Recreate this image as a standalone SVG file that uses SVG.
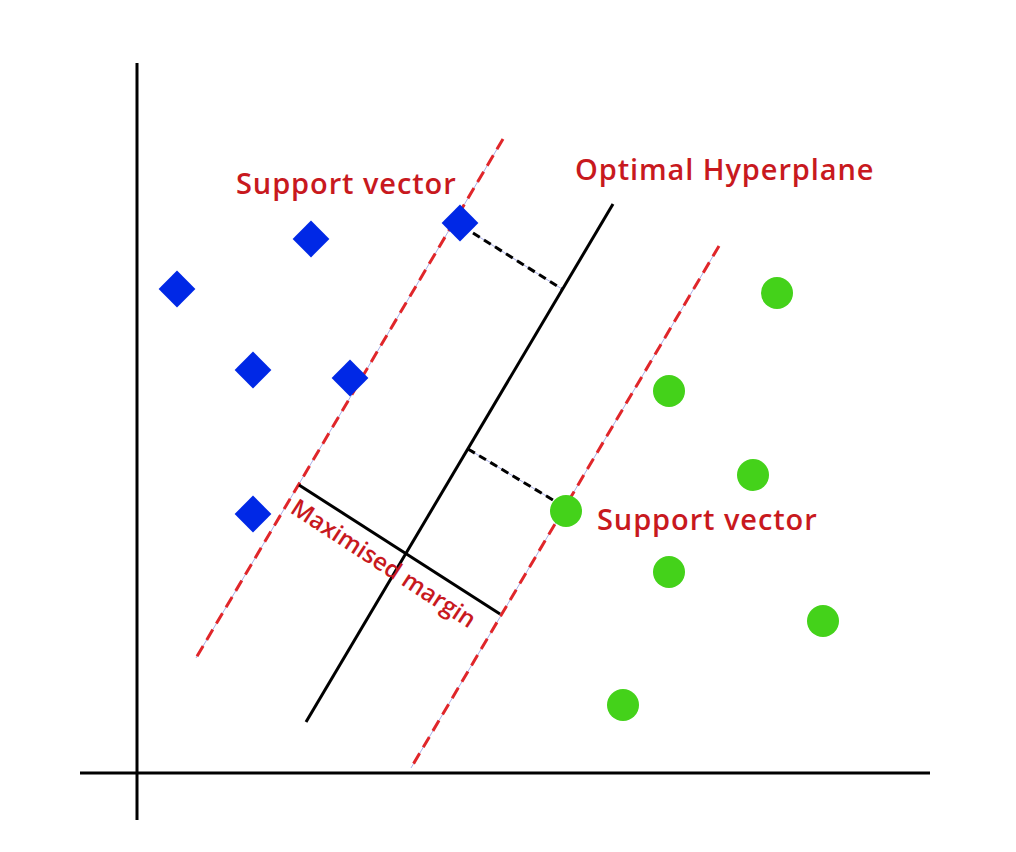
<svg xmlns="http://www.w3.org/2000/svg" width="1016" height="852" viewBox="0 0 1016 852">
<style>
.ax{stroke:#000;stroke-width:3}
.sv{stroke:#e0262a;stroke-width:3;stroke-dasharray:12 7}
.thin{stroke:#aab0e8;stroke-width:1}
.blk{stroke:#000;stroke-width:3}
.dsh{stroke:#000;stroke-width:3;stroke-dasharray:8 5}
.lbl{font-family:"Open Sans","Liberation Sans",sans-serif;font-weight:600;font-size:29px;letter-spacing:0.9px;fill:#c8191e}
.mm{font-size:24px;letter-spacing:0}
.dia{fill:#0028e6}
.cir{fill:#44d21a}
</style>
<rect width="1016" height="852" fill="#fff"/>
<g id="axes">
<line class="ax" x1="137" y1="63" x2="137" y2="820"/>
<line class="ax" x1="80" y1="773" x2="930" y2="773"/>
</g>
<g id="connectors" fill="none">
<line class="thin" x1="503" y1="139" x2="196" y2="658"/>
<line class="sv" x1="503" y1="139" x2="196" y2="658"/>
<line class="thin" x1="719" y1="246" x2="411" y2="768"/>
<line class="sv" x1="719" y1="246" x2="411" y2="768"/>
<line class="blk" x1="613" y1="204" x2="306" y2="722"/>
<line class="blk" x1="299" y1="485" x2="500" y2="614"/>
<line class="thin" x1="473" y1="233" x2="562" y2="289"/>
<line class="dsh" x1="473" y1="233" x2="562" y2="289"/>
<line class="thin" x1="468" y1="449" x2="553" y2="500"/>
<line class="dsh" x1="468" y1="449" x2="553" y2="500"/>
</g>
<g id="diamonds">
<rect class="dia" x="-13" y="-13" width="26" height="26" transform="translate(311,239) rotate(45)"/>
<rect class="dia" x="-13" y="-13" width="26" height="26" transform="translate(177,289) rotate(45)"/>
<rect class="dia" x="-13" y="-13" width="26" height="26" transform="translate(460,223) rotate(45)"/>
<rect class="dia" x="-13" y="-13" width="26" height="26" transform="translate(253,370) rotate(45)"/>
<rect class="dia" x="-13" y="-13" width="26" height="26" transform="translate(350,378) rotate(45)"/>
<rect class="dia" x="-13" y="-13" width="26" height="26" transform="translate(253,514) rotate(45)"/>
</g>
<g id="circles">
<circle class="cir" cx="777" cy="293" r="16"/>
<circle class="cir" cx="669" cy="391" r="16"/>
<circle class="cir" cx="753" cy="475" r="16"/>
<circle class="cir" cx="566" cy="511" r="16"/>
<circle class="cir" cx="669" cy="572" r="16"/>
<circle class="cir" cx="823" cy="621" r="16"/>
<circle class="cir" cx="623" cy="705" r="16"/>
</g>
<g id="labels">
<text class="lbl" x="236" y="194">Support vector</text>
<text class="lbl" x="575" y="180">Optimal Hyperplane</text>
<text class="lbl" x="597" y="530">Support vector</text>
<text class="lbl mm" transform="translate(289,512) rotate(33)">Maximised margin</text>
</g>
</svg>
